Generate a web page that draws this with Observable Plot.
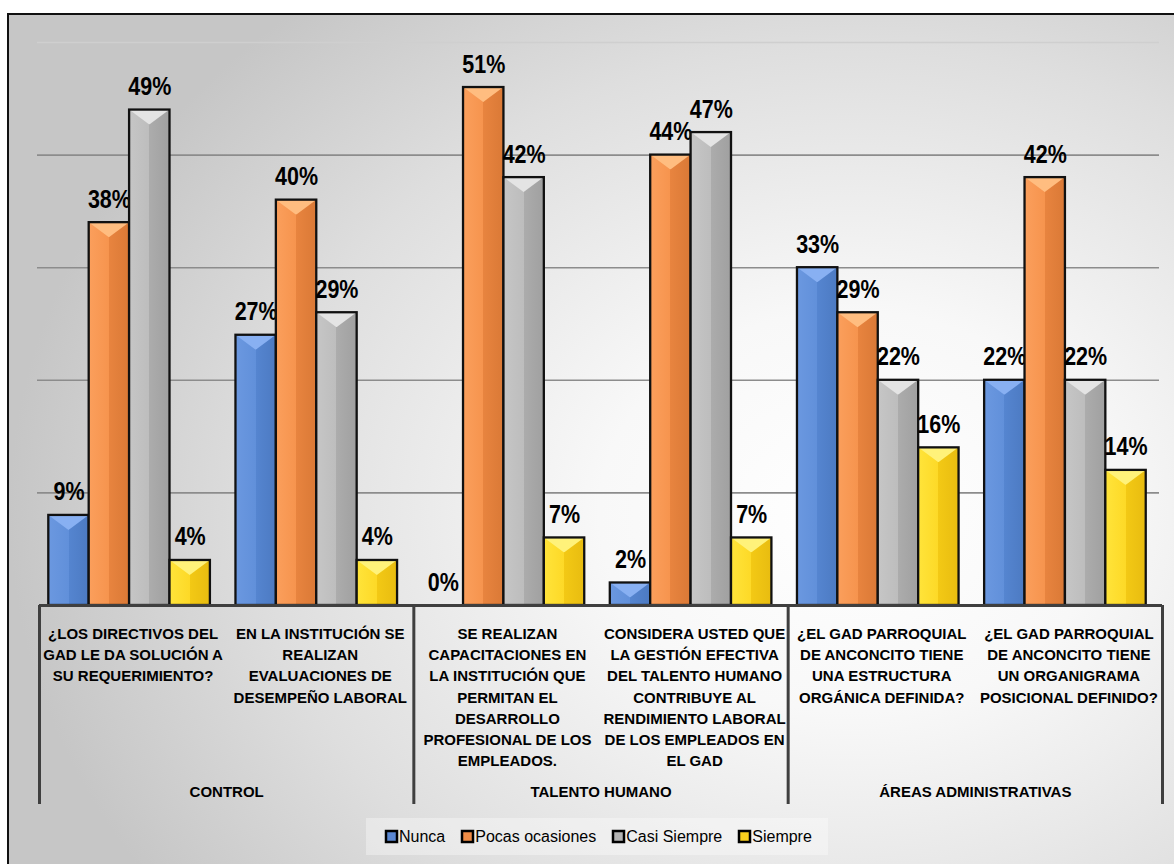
<!DOCTYPE html>
<html><head><meta charset="utf-8">
<script src="https://cdn.jsdelivr.net/npm/d3@7"></script>
<script src="https://cdn.jsdelivr.net/npm/@observablehq/plot@0.6"></script>
<style>
html,body{margin:0;padding:0;background:#fff;}
body{width:1174px;height:864px;position:relative;overflow:hidden;font-family:"Liberation Sans",Arial,sans-serif;}
#frame{position:absolute;left:7px;top:13px;width:1175px;height:860px;border:2px solid #111;box-sizing:border-box;
 background: radial-gradient(ellipse 72% 78% at 72% 58%, #ffffff 0%, #f8f8f8 30%, #dedede 70%, #c6c6c6 100%);}
#chart{position:absolute;left:0;top:0;}
#legendbox{position:absolute;left:366px;top:818px;width:462px;height:37px;background:rgba(255,255,255,0.35);}
#legend{position:absolute;left:386px;top:818px;height:37px;display:flex;align-items:center;}
.lg-swatch{margin-right:17px !important;font-size:16px;color:#000;}
.lg-swatch:last-child{margin-right:0 !important}
.lg-swatch > svg{margin-right:2px !important;}
.lg-swatch rect{stroke:#000;stroke-width:2.5px;}
</style></head>
<body>
<div id="frame"></div>
<div id="legendbox"></div>
<div id="chart"></div>
<div id="legend"></div>
<script>
// ---- data ----
const questionIds = ["Q1","Q2","Q3","Q4","Q5","Q6"];
const questionLabels = [
  "¿LOS DIRECTIVOS DEL\nGAD LE DA SOLUCIÓN A\nSU REQUERIMIENTO?",
  "EN LA INSTITUCIÓN SE\nREALIZAN\nEVALUACIONES DE\nDESEMPEÑO LABORAL",
  "SE REALIZAN\nCAPACITACIONES EN\nLA INSTITUCIÓN QUE\nPERMITAN EL\nDESARROLLO\nPROFESIONAL DE LOS\nEMPLEADOS.",
  "CONSIDERA USTED QUE\nLA GESTIÓN EFECTIVA\nDEL TALENTO HUMANO\nCONTRIBUYE AL\nRENDIMIENTO LABORAL\nDE LOS EMPLEADOS EN\nEL GAD",
  "¿EL GAD PARROQUIAL\nDE ANCONCITO TIENE\nUNA ESTRUCTURA\nORGÁNICA DEFINIDA?",
  "¿EL GAD PARROQUIAL\nDE ANCONCITO TIENE\nUN ORGANIGRAMA\nPOSICIONAL DEFINIDO?"
];
const groupNames = ["CONTROL","TALENTO HUMANO","ÁREAS ADMINISTRATIVAS"];
const groupFirstQuestion = ["Q1","Q3","Q5"];
const groupLastQuestion = ["Q6"];
const series = ["Nunca","Pocas ocasiones","Casi Siempre","Siempre"];
// bar heights (respondents, n = 45)
const nunca   = [4, 12, 0, 1, 15, 10];
const pocas   = [17, 18, 23, 20, 13, 19];
const casi    = [22, 13, 19, 21, 10, 10];
const siempre = [2, 2, 3, 3, 7, 6];
// data labels (%)
const nuncaPct   = [9, 27, 0, 2, 33, 22];
const pocasPct   = [38, 40, 51, 44, 29, 42];
const casiPct    = [49, 29, 42, 47, 22, 22];
const siemprePct = [4, 4, 7, 7, 16, 14];
const gridTicks = [5, 10, 15, 20];
const topTick = [25];

// ---- styles ----
const baseColors = ["#5b88d2", "#f08c46", "#b3b3b3", "#f9d01e"];
const grads = [
  ["#6b98e0","#6190da","#5585d0","#4c7ac2"],
  ["#fb9f5c","#f6944e","#e8843f","#da7936"],
  ["#c6c6c6","#bdbdbd","#acacac","#a0a0a0"],
  ["#ffe43a","#fdd927","#f3c915","#e8bc10"]
];
const topColors = ["#88b0f2","#ffbd80","#e4e4e4","#fff27a"];

const W = 1174, H = 815, mL = 39, mR = 12, mT = 42, mB = 210;
const bw = (W - mL - mR) / questionIds.length;
const barW = 40.4, firstInset = 9.3;

const values = [nunca, pocas, casi, siempre];
const pcts = [nuncaPct, pocasPct, casiPct, siemprePct];
const font = "'Liberation Sans', Arial, sans-serif";

const marks = [
  Plot.ruleY(gridTicks, {stroke: "#8c8c8c", strokeWidth: 1.6, insetLeft: -2, insetRight: 3}),
  Plot.ruleY(topTick, {stroke: "#cfcfcf", strokeWidth: 1.6, insetLeft: -2, insetRight: 3})
];
values.forEach((vals, s) => {
  const rows = questionIds.map((q, i) => ({q, v: vals[i], p: pcts[s][i]}));
  const L = firstInset + barW * s;
  const R = bw - L - barW;
  marks.push(
    Plot.barY(rows, {x: "q", y: "v", fill: `url(#grad${s})`, insetLeft: L, insetRight: R}),
    Plot.barY(rows.filter(d => d.v > 0), {x: "q", y1: "v", y2: "v", fill: topColors[s], insetLeft: L, insetRight: R, insetBottom: -15}),
    Plot.barY(rows, {x: "q", y: "v", fill: "none", stroke: "#111", strokeWidth: 2.3, insetLeft: L, insetRight: R}),
    Plot.text(rows, {x: "q", y: "v", text: d => d.p + "%", dx: L + barW / 2 - bw / 2, dy: -15, lineAnchor: "bottom",
      fontSize: 25, fontWeight: "bold", fontFamily: font, fill: "#000"})
  );
});
marks.push(
  Plot.ruleY([0], {stroke: "#3f3f3f", strokeWidth: 3.2}),
  Plot.ruleX(groupFirstQuestion, {x: d => d, dx: -bw / 2, stroke: "#3f3f3f", strokeWidth: 3, insetTop: H - mT - mB, insetBottom: -199}),
  Plot.ruleX(groupLastQuestion, {x: d => d, dx: bw / 2, stroke: "#3f3f3f", strokeWidth: 3, insetTop: H - mT - mB, insetBottom: -199}),
  Plot.text(questionIds, {x: d => d, text: (d, i) => questionLabels[i], frameAnchor: "bottom", lineAnchor: "top", dy: 18,
    fontSize: 15, fontWeight: "bold", lineHeight: 1.42, fontFamily: font, fill: "#000"}),
  Plot.text(groupNames, {x: (d, i) => groupFirstQuestion[i], text: d => d, dx: bw / 2, frameAnchor: "bottom", lineAnchor: "middle", dy: 187,
    fontSize: 15, fontWeight: "bold", fontFamily: font, fill: "#000"})
);

const chart = Plot.plot({
  width: W, height: H,
  marginLeft: mL, marginRight: mR, marginTop: mT, marginBottom: mB,
  x: {type: "band", domain: questionIds, padding: 0, round: false, axis: null},
  y: {domain: [0, 25], axis: null},
  style: {background: "transparent", overflow: "visible"},
  marks
});
document.getElementById("chart").appendChild(chart);

// gradient + bevel definitions
const svg = d3.select(chart);
const defs = svg.insert("defs", ":first-child");
grads.forEach((g, s) => {
  const lg = defs.append("linearGradient").attr("id", `grad${s}`).attr("x1", 0).attr("x2", 1).attr("y1", 0).attr("y2", 0);
  lg.append("stop").attr("offset", 0).attr("stop-color", g[0]);
  lg.append("stop").attr("offset", 0.5).attr("stop-color", g[1]);
  lg.append("stop").attr("offset", 0.5).attr("stop-color", g[2]);
  lg.append("stop").attr("offset", 1).attr("stop-color", g[3]);
});
defs.append("clipPath").attr("id", "tri").attr("clipPathUnits", "objectBoundingBox")
  .append("polygon").attr("points", "0,0 1,0 0.5,1");
svg.selectAll("g").filter(function() { return topColors.includes(this.getAttribute("fill")); })
  .selectAll("rect").attr("clip-path", "url(#tri)");
// condensed bold data labels
svg.selectAll("g").filter(function() { return this.getAttribute("font-size") === "25"; })
  .selectAll("text").each(function() {
    const len = this.getComputedTextLength();
    this.setAttribute("textLength", (len * 0.86).toFixed(1));
    this.setAttribute("lengthAdjust", "spacingAndGlyphs");
  });

const legend = Plot.legend({
  color: {type: "ordinal", domain: series, range: baseColors},
  swatchSize: 11, className: "lg",
  style: {fontFamily: font, fontSize: "16px", color: "#000", margin: "0"}
});
document.getElementById("legend").appendChild(legend);
</script>
</body></html>
